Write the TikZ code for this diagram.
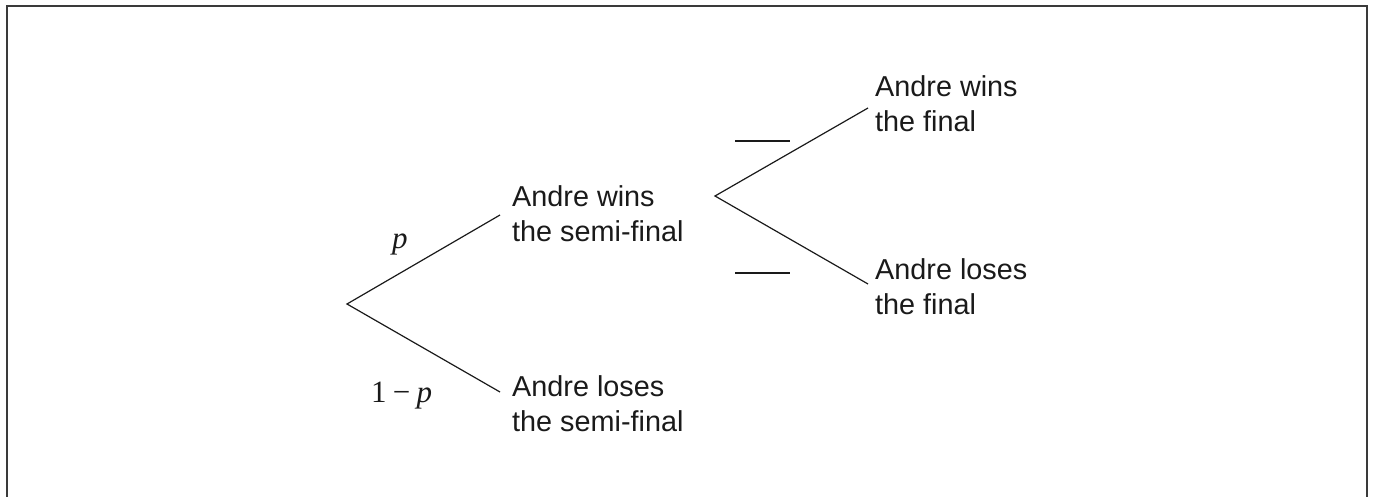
\documentclass[tikz,border=0pt]{standalone}
\usepackage{fontspec}
\setmainfont{Liberation Sans}
\newfontfamily\probfont{Liberation Serif}
\usepackage{xcolor}
\definecolor{FrameGrey}{HTML}{3A3A3A}
\definecolor{InkDark}{HTML}{1A1A1A}

\begin{document}
\begin{tikzpicture}[x=1pt, y=-1pt,
  outcome/.style={anchor=north west, inner sep=0pt, align=left, text=InkDark,
    font=\fontsize{28.8}{35}\selectfont},
  prob/.style={anchor=base west, inner sep=0pt, text=InkDark,
    font=\probfont\fontsize{31}{36}\selectfont},
  branch/.style={draw=InkDark, line width=1.2pt}]

  \useasboundingbox (0,0) rectangle (1375,497);

  % Rahmen (unten offen)
  \draw[FrameGrey, line width=2pt] (6.5,497) -- (6.5,6) -- (1367,6) -- (1367,497);

  % Verzweigungspunkte und Astenden
  \coordinate (root)  at (347,304);
  \coordinate (semiW) at (500,215);
  \coordinate (semiL) at (500,392);
  \coordinate (fork)  at (715,196);
  \coordinate (finW)  at (868,108);
  \coordinate (finL)  at (868,284);

  % Ergebnisse
  \node[outcome] (swin)  at (512,185) {Andre wins\\the semi-final};
  \node[outcome] (slose) at (512,375) {Andre loses\\the semi-final};
  \node[outcome] (fwin)  at (875,75)  {Andre wins\\the final};
  \node[outcome] (flose) at (875,258) {Andre loses\\the final};

  % Äste
  \draw[branch] (semiW) -- (root) -- (semiL);
  \draw[branch] (finW) -- (fork) -- (finL);

  % Wahrscheinlichkeiten
  \node[prob] (pwin)  at (392,248) {\textit{p}};
  \node[prob] (plose) at (371,402) {1\hspace{0.2em}−\hspace{0.2em}\textit{p}};

  % Leerstellen zum Ausfüllen
  \def\blankline#1#2{
    \coordinate (#1a) at (735,#2);
    \coordinate (#1b) at (790,#2);
    \draw[InkDark, line width=1.1pt] (#1a) -- (#1b);
  }
  \blankline{bw}{141}
  \blankline{bl}{273}

\end{tikzpicture}
\end{document}
